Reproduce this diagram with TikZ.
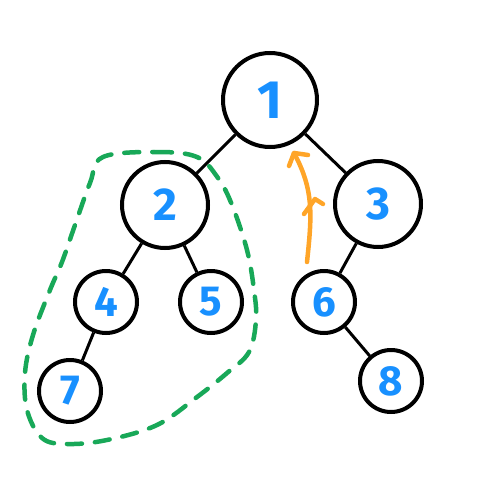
\documentclass[tikz,border=0pt]{standalone}
\usepackage{fontspec}
\setmainfont{Fira Sans}
\begin{document}
\begin{tikzpicture}[x=1pt,y=-1pt,
  treenode/.style={circle,draw=black,line width=4pt,inner sep=0pt,text=digitblue,font=\fontsize{46}{46}\selectfont\bfseries},
  bignode/.style={treenode,minimum size=86pt},
  hugenode/.style={treenode,minimum size=94pt,font=\fontsize{54}{54}\selectfont\bfseries},
  smallnode/.style={treenode,minimum size=62pt,font=\fontsize{42}{42}\selectfont\bfseries},
  edge/.style={line width=3pt,black},
  group/.style={draw=groupgreen,line width=4.5pt,dash pattern=on 15pt off 13pt,line cap=round},
  orangearrow/.style={draw=arroworange,line width=4.5pt,line cap=round,line join=round}]
\definecolor{digitblue}{RGB}{24,144,255}
\definecolor{groupgreen}{RGB}{24,168,88}
\definecolor{arroworange}{RGB}{255,165,40}
\useasboundingbox (0,0) rectangle (500,500);
\node[hugenode] (n1) at (270,100) {1};
\node[bignode] (n2) at (165,205) {2};
\node[bignode] (n3) at (378,204) {3};
\node[smallnode] (n4) at (106,302) {4};
\node[smallnode] (n5) at (211,302) {5};
\node[smallnode] (n6) at (324,302) {6};
\node[smallnode] (n7) at (70,391) {7};
\node[smallnode] (n8) at (391,381) {8};
\draw[edge] (n1) -- (n2);
\draw[edge] (n1) -- (n3);
\draw[edge] (n2) -- (n4);
\draw[edge] (n2) -- (n5);
\draw[edge] (n3) -- (n6);
\draw[edge] (n4) -- (n7);
\draw[edge] (n6) -- (n8);
\draw[group] plot[smooth cycle,tension=0.6] coordinates {
 (103,157) (157,152) (197,157) (218,178) (232,205) (247,250) (254,290)
 (256,320) (249,352) (227,373) (197,397) (157,425) (107,440) (67,444)
 (42,438) (27,410) (25,373) (33,335) (50,290) (62,262) (75,225) (90,183)};
\coordinate (as) at (307,262);
\coordinate (at) at (294,153);
\draw[orangearrow] (as) .. controls (312,215) and (314,190) .. (at);
\draw[orangearrow] (289,166) -- (at) -- (308,155);
\draw[orangearrow] (304,214) -- (315,199) -- (323,204);
\end{tikzpicture}
\end{document}
